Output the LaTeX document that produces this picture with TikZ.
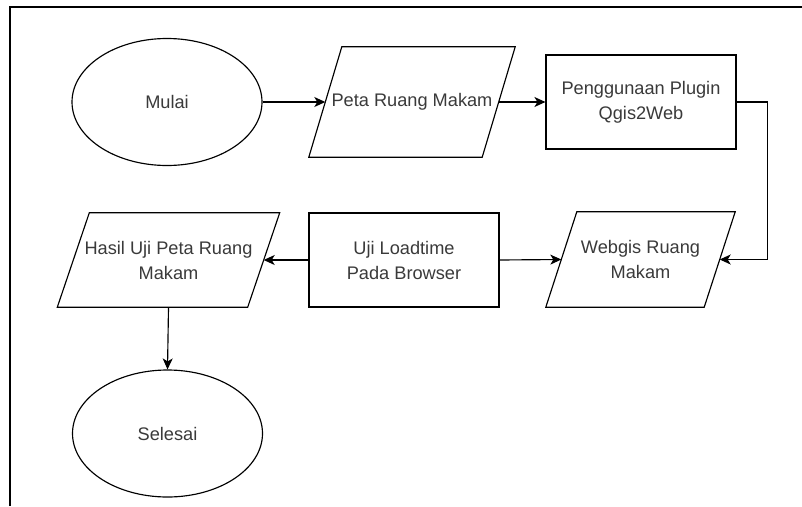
\documentclass[tikz,border=0pt]{standalone}
\usepackage{fontspec}
\setmainfont{Liberation Sans}
\usetikzlibrary{shapes.geometric,arrows.meta}
\definecolor{txt}{HTML}{3A3A3A}
\begin{document}
\begin{tikzpicture}[x=1pt,y=-1pt,
  lbl/.style={font=\fontsize{18.2}{25}\selectfont, text=txt, align=center, inner sep=0pt},
  oval/.style={lbl, draw, ellipse, line width=1.15pt, minimum width=190pt, minimum height=127pt},
  boxnode/.style={lbl, draw, rectangle, line width=1.15pt, minimum width=190pt, minimum height=94pt},
  paranode/.style={lbl, draw=none, rectangle},
  conn/.style={line width=1.15pt, -{Stealth[length=11pt,width=10pt,inset=3pt]}},
  outline/.style={line width=1.15pt}
]
\useasboundingbox (0,0) rectangle (802,506);
\fill[white] (0,0) rectangle (802,506);
\draw[outline] (10,506) -- (10,7) -- (802,7);

% nodes
\node[oval] (mulai) at (167,102) {Mulai};
\node[paranode, minimum width=173pt, minimum height=110pt] (peta) at (412,102) {Peta Ruang Makam};
\node[boxnode] (plugin) at (641,102) {Penggunaan Plugin\\Qgis2Web};
\node[paranode, minimum width=158pt, minimum height=95pt] (web) at (640.5,259.5) {Webgis Ruang\\Makam};
\node[boxnode] (uji) at (404,260) {Uji Loadtime\\Pada Browser};
\node[paranode, minimum width=190pt, minimum height=94pt] (hasil) at (168.5,260) {Hasil Uji Peta Ruang\\Makam};
\node[oval] (selesai) at (167.5,433.5) {Selesai};

% parallelogram outlines
\draw[outline] ([xshift=16.5pt]peta.north west) -- ([xshift=16.5pt]peta.north east)
  -- ([xshift=-16.5pt]peta.south east) -- ([xshift=-16.5pt]peta.south west) -- cycle;
\draw[outline] ([xshift=15.5pt]web.north west) -- ([xshift=15.5pt]web.north east)
  -- ([xshift=-15.5pt]web.south east) -- ([xshift=-15.5pt]web.south west) -- cycle;
\draw[outline] ([xshift=16pt]hasil.north west) -- ([xshift=16pt]hasil.north east)
  -- ([xshift=-16pt]hasil.south east) -- ([xshift=-16pt]hasil.south west) -- cycle;

% connectors
\draw[conn] (mulai) -- (peta.west);
\draw[conn] (peta.east) -- (plugin.west);
\draw[conn] (plugin.east) -- ++(31,0) |- (web.east);
\draw[conn] (uji.east) -- (web.west);
\draw[conn] (uji.west) -- (hasil.east);
\draw[conn] (hasil.south) -- (selesai.north);
\end{tikzpicture}
\end{document}
